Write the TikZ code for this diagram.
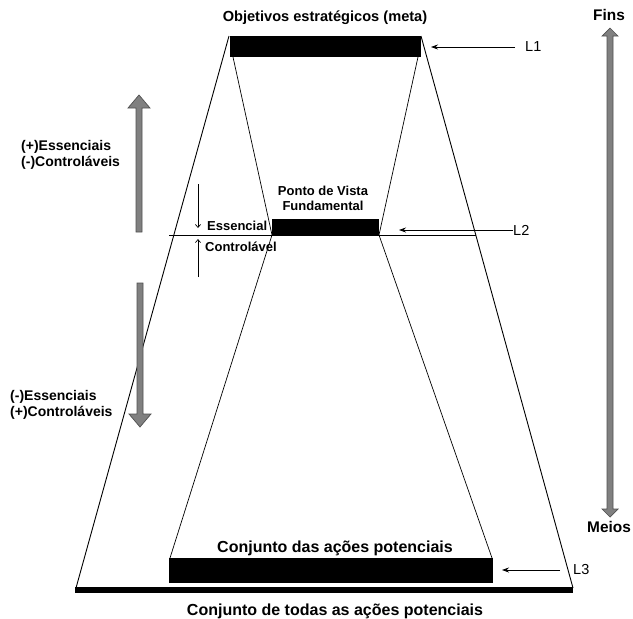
\documentclass[tikz,border=0pt]{standalone}
\usepackage{fontspec}
\setmainfont{Liberation Sans}
\usetikzlibrary{arrows.meta}
\definecolor{blockfill}{RGB}{128,128,128}
\definecolor{blockline}{RGB}{80,80,80}
\begin{document}
\begin{tikzpicture}[x=1pt,y=-1pt,
  lbl/.style={font=\fontsize{14}{15.5}\selectfont\bfseries, inner sep=0pt, align=left},
  tiny/.style={font=\fontsize{13}{15}\selectfont\bfseries, inner sep=0pt, align=center},
  ttl/.style={font=\fontsize{14.6}{16}\selectfont\bfseries, inner sep=0pt},
  big/.style={font=\fontsize{16}{18}\selectfont\bfseries, inner sep=0pt},
  lev/.style={font=\fontsize{14.5}{16}\selectfont, inner sep=0pt},
  bar/.style={fill=black, draw=none},
  edge/.style={line width=0.9pt},
  ptr/.style={line width=0.8pt, -{Stealth[length=7pt,width=5pt]}},
  tick/.style={line width=0.7pt, -{Straight Barb[length=3pt,width=5pt]}},
  block/.style={fill=blockfill, draw=blockline, line width=0.7pt, line join=miter}]
\useasboundingbox (0,0) rectangle (633,619);

% levels of the funnel
\fill[bar] (230,36) rectangle (421,57);
\fill[bar] (272,219) rectangle (379,235);
\fill[bar] (169,558) rectangle (493,583);
\fill[bar] (75,587) rectangle (573,593);

% outer and inner sides
\draw[edge] (229,36) -- (76,588);
\draw[edge] (421,36) -- (573,588);
\draw[edge, line width=0.7pt] (233,57) -- (272,235) -- (170,558);
\draw[edge, line width=0.7pt] (418,57) -- (379,235) -- (492,558);
\draw[line width=0.7pt] (169,235) -- (476,235);

% titles
\node[ttl] (meta) at (325,18) {Objetivos estratégicos (meta)};
\node[tiny] (pvf) at (323,198) {Ponto de Vista\\Fundamental};
\node[big] (cap) at (335,548) {Conjunto das ações potenciais};
\node[big] (all) at (335,611) {Conjunto de todas as ações potenciais};

% level markers
\node[lev, anchor=west] (L1) at (525,47) {L1};
\node[lev, anchor=west] (L2) at (513,230) {L2};
\node[lev, anchor=west] (L3) at (573,570) {L3};
\coordinate (s1) at (515,47);
\coordinate (s3) at (560,570);
\coordinate (t1) at (431,47);
\coordinate (t2) at (399,230);
\coordinate (t3) at (502,570);
\draw[ptr] (s1) -- (t1);
\draw[ptr] (L2.west) -- (t2);
\draw[ptr] (s3) -- (t3);

% side notes
\node[lbl, anchor=west] (upper) at (21,155) {(+)Essenciais\\(-)Controláveis};
\node[lbl, anchor=west] (lower) at (10,405) {(-)Essenciais\\(+)Controláveis};
\node[tiny, anchor=west] (ess) at (207,226) {Essencial};
\node[tiny, anchor=west] (ctl) at (205,247) {Controlável};

% small tick arrows at the fundamental level
\coordinate (d0) at (198,184);
\coordinate (d1) at (198,228);
\coordinate (u0) at (198,277);
\coordinate (u1) at (198,239);
\draw[tick] (d0) -- (d1);
\draw[tick] (u0) -- (u1);

% grey block arrows
\draw[block] (136,232) -- (136,108) -- (128,108) -- (139,95) -- (150,108) -- (142,108) -- (142,232) -- cycle;
\draw[block] (137,283) -- (137,414) -- (129,414) -- (140,427) -- (151,414) -- (143,414) -- (143,283) -- cycle;
\draw[block] (607,36) -- (602,36) -- (610,28) -- (618,36) -- (613,36)
  -- (613,509) -- (618,509) -- (610,517) -- (602,509) -- (607,509) -- cycle;

\node[lbl, font=\fontsize{15.4}{17}\selectfont\bfseries] (fins) at (609,15) {Fins};
\node[lbl, font=\fontsize{15.4}{17}\selectfont\bfseries] (meios) at (609,527) {Meios};
\end{tikzpicture}
\end{document}
